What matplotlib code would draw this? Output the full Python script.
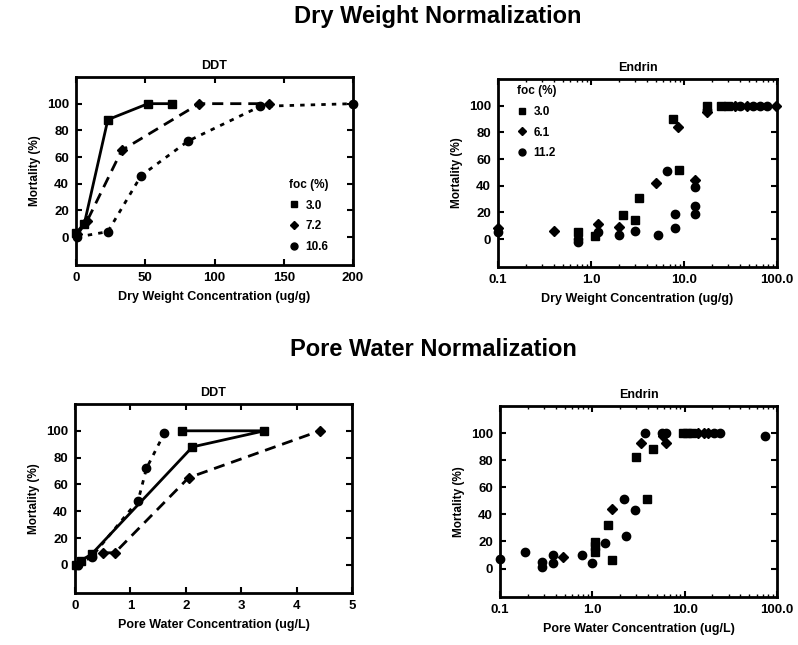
import numpy as np
import matplotlib.pyplot as plt
from matplotlib.lines import Line2D

plt.rcParams['font.family'] = ['Liberation Sans', 'DejaVu Sans']
plt.rcParams['font.weight'] = 'bold'

# ---- data ----
foc_ddt = ['3.0', '7.2', '10.6']
foc_endrin = ['3.0', '6.1', '11.2']

# DDT, dry weight (ug/g) vs mortality (%)
ddt_dw_x1 = [0, 6, 23, 52, 69]
ddt_dw_y1 = [3, 10, 88, 100, 100]
ddt_dw_x2 = [1, 8, 33, 89, 139]
ddt_dw_y2 = [2, 12, 65, 100, 100]
ddt_dw_x3 = [1, 23, 47, 81, 133, 200]
ddt_dw_y3 = [0, 4, 46, 72, 98, 100]

# Endrin, dry weight (ug/g)
end_dw_x1 = [0.73, 1.1, 2.2, 3.0, 3.3, 7.7, 8.9, 17.5, 25, 30]
end_dw_y1 = [5, 2, 18, 14, 31, 90, 52, 100, 100, 100]
end_dw_x2 = [0.1, 0.4, 1.2, 2.0, 5.0, 8.7, 13.1, 17.5, 35, 48, 98]
end_dw_y2 = [8, 6, 11, 9, 42, 84, 44, 95, 100, 100, 100]
end_dw_x3 = [0.1, 0.73, 0.73, 1.2, 2.0, 3.0, 5.3, 6.5, 8.0, 8.0, 13.1, 13.1, 13.1, 17.5, 40, 55, 65, 78]
end_dw_y3 = [5, 0, -2, 5, 3, 6, 3, 51, 19, 8, 39, 25, 19, 97, 100, 100, 100, 100]

# DDT, pore water (ug/L)
ddt_pw_x1 = [0.02, 0.1, 0.3, 2.12, 3.42, 1.93]
ddt_pw_y1 = [0, 3, 8, 88, 100, 100]
ddt_pw_x2 = [0.5, 0.72, 2.05, 4.42]
ddt_pw_y2 = [9, 9, 65, 100]
ddt_pw_x3 = [0.05, 0.3, 1.14, 1.29, 1.61]
ddt_pw_y3 = [0, 6, 48, 72, 98]

# Endrin, pore water (ug/L)
end_pw_x1 = [1.07, 1.07, 1.07, 1.49, 1.62, 2.95, 3.94, 4.5, 9.7, 10.5, 12]
end_pw_y1 = [19.5, 16.6, 12, 32, 6, 82, 51, 88, 100, 100, 100]
end_pw_x2 = [0.477, 1.62, 3.34, 5.8, 6.3, 14, 16, 18]
end_pw_y2 = [8.5, 44, 93, 98, 93, 100, 100, 100]
end_pw_x3 = [0.1, 0.186, 0.283, 0.283, 0.373, 0.373, 0.767, 0.98, 1.37, 2.2, 2.31, 2.9, 3.7, 5.7, 6.3, 21, 24, 75]
end_pw_y3 = [7, 12, 5, 1, 10, 4, 10, 4, 19, 51, 24, 43, 100, 100, 100, 100, 100, 98]

yticks = [0, 20, 40, 60, 80, 100]
log_ticks = [0.1, 1, 10, 100]
log_labels = ['0.1', '1.0', '10.0', '100.0']

markers = ['s', 'D', 'o']
msizes = [5.5, 5, 6]
dashes = [(None, None), (4, 2.5), (1.6, 2.2)]

W, H = 798, 645
fig = plt.figure(figsize=(W / 100, H / 100), dpi=100)


def make_ax(x0, y0, x1, y1):
    return fig.add_axes([x0 / W, 1 - y1 / H, (x1 - x0) / W, (y1 - y0) / H])


def style(ax, title, xlabel):
    for s in ax.spines.values():
        s.set_linewidth(2)
    ax.tick_params(direction='in', top=True, right=True, length=4, width=1.5,
                   labelsize=9.5, pad=5)
    ax.tick_params(which='minor', direction='in', top=True, right=True, length=2.5, width=1)
    ax.set_yticks(yticks)
    ax.set_ylim(-21, 120)
    ax.set_title(title, fontsize=9, fontweight='bold', pad=6)
    ax.set_xlabel(xlabel, fontsize=9, fontweight='bold', labelpad=5)
    ax.set_ylabel('Mortality (%)', fontsize=8.5, fontweight='bold', labelpad=4)
    for lab in ax.get_xticklabels() + ax.get_yticklabels():
        lab.set_fontweight('bold')


def ddt_lines(ax, xs, ys):
    for i in range(3):
        ls = '-' if i == 0 else (0, dashes[i])
        ax.plot(xs[i], ys[i], color='black', lw=2, linestyle=ls, clip_on=False,
                marker=markers[i], ms=msizes[i], mfc='black', mec='black')


def endrin_points(ax, xs, ys):
    for i in range(3):
        ax.plot(xs[i], ys[i], linestyle='none', marker=markers[i], ms=msizes[i],
                color='black', clip_on=False)
    ax.set_xscale('log')
    ax.set_xlim(0.1, 100)
    ax.set_xticks(log_ticks)
    ax.set_xticklabels(log_labels)


def foc_legend(ax, labels, loc):
    handles = [Line2D([], [], color='black', linestyle='none', marker=markers[i],
                      ms=msizes[i] - 1) for i in range(3)]
    leg = ax.legend(handles, labels, title='foc (%)', loc=loc, frameon=False,
                    fontsize=8.5, title_fontsize=8.5, handlelength=0.8,
                    handletextpad=0.6, labelspacing=0.75, borderpad=0.2)
    leg._legend_box.align = 'left'
    leg.get_title().set_fontweight('bold')
    for t in leg.get_texts():
        t.set_fontweight('bold')


# Dry weight, DDT
ax1 = make_ax(76, 77, 353, 265)
ddt_lines(ax1, [ddt_dw_x1, ddt_dw_x2, ddt_dw_x3], [ddt_dw_y1, ddt_dw_y2, ddt_dw_y3])
ax1.set_xlim(0, 200)
ax1.set_xticks([0, 50, 100, 150, 200])
style(ax1, 'DDT', 'Dry Weight Concentration (ug/g)')
foc_legend(ax1, foc_ddt, (0.76, 0.05))

# Dry weight, Endrin
ax2 = make_ax(498, 79, 777, 267)
endrin_points(ax2, [end_dw_x1, end_dw_x2, end_dw_x3], [end_dw_y1, end_dw_y2, end_dw_y3])
style(ax2, 'Endrin', 'Dry Weight Concentration (ug/g)')
foc_legend(ax2, foc_endrin, (0.06, 0.56))

# Pore water, DDT
ax3 = make_ax(75, 404, 352, 593)
ddt_lines(ax3, [ddt_pw_x1, ddt_pw_x2, ddt_pw_x3], [ddt_pw_y1, ddt_pw_y2, ddt_pw_y3])
ax3.set_xlim(0, 5)
ax3.set_xticks([0, 1, 2, 3, 4, 5])
style(ax3, 'DDT', 'Pore Water Concentration (ug/L)')

# Pore water, Endrin
ax4 = make_ax(500, 406, 777, 597)
endrin_points(ax4, [end_pw_x1, end_pw_x2, end_pw_x3], [end_pw_y1, end_pw_y2, end_pw_y3])
style(ax4, 'Endrin', 'Pore Water Concentration (ug/L)')

fig.text(438 / W, 1 - 16 / H, 'Dry Weight Normalization', ha='center', va='center',
         fontsize=17, fontweight='bold')
fig.text(433 / W, 1 - 349 / H, 'Pore Water Normalization', ha='center', va='center',
         fontsize=17, fontweight='bold')

fig.savefig('out.png', dpi=100, facecolor='white')
